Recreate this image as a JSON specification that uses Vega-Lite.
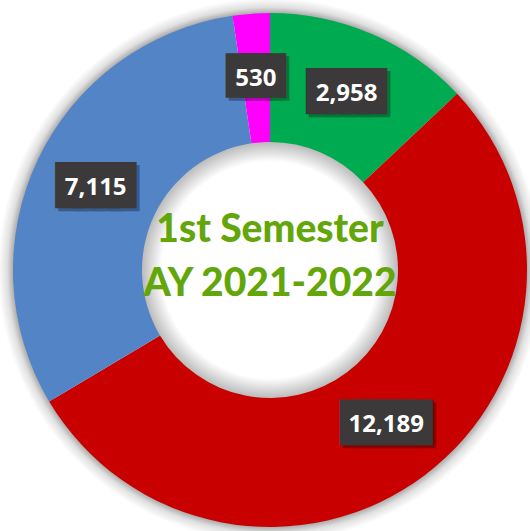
{
  "$schema": "https://vega.github.io/schema/vega-lite/v6.json",
  "width": 540,
  "height": 540,
  "autosize": "none",
  "padding": 0,
  "background": "white",
  "config": {"view": {"stroke": null}},
  "datasets": {
    "enrollment": [
      {"segment": "Segment 1", "order": 1, "value": 2958},
      {"segment": "Segment 2", "order": 2, "value": 12189},
      {"segment": "Segment 3", "order": 3, "value": 7115},
      {"segment": "Segment 4", "order": 4, "value": 530}
    ]
  },
  "layer": [
    {
      "data": {"values": [{"ring": "outer glow"}]},
      "mark": {
        "type": "arc", "theta": 0, "theta2": 6.2832, "outerRadius": 272, "innerRadius": 250,
        "fill": {"gradient": "radial", "x1": 0.5, "y1": 0.5, "r1": 0.4724, "x2": 0.5, "y2": 0.5, "r2": 0.5,
          "stops": [{"offset": 0, "color": "rgba(0,0,0,0.32)"}, {"offset": 0.4, "color": "rgba(0,0,0,0.12)"}, {"offset": 1, "color": "rgba(0,0,0,0)"}]}
      },
      "encoding": {}
    },
    {
      "data": {"values": [{"ring": "inner shade"}]},
      "mark": {
        "type": "arc", "theta": 0, "theta2": 6.2832, "outerRadius": 129, "innerRadius": 0,
        "fill": {"gradient": "radial", "x1": 0.5, "y1": 0.5, "r1": 0.42, "x2": 0.5, "y2": 0.5, "r2": 0.5,
          "stops": [{"offset": 0, "color": "rgba(0,0,0,0)"}, {"offset": 1, "color": "rgba(0,0,0,0.28)"}]}
      },
      "encoding": {}
    },
    {
      "data": {"name": "enrollment"},
      "mark": {"type": "arc", "outerRadius": 257, "innerRadius": 128},
      "encoding": {
        "theta": {"field": "value", "type": "quantitative", "stack": true},
        "order": {"field": "order", "type": "quantitative"},
        "color": {
          "field": "segment", "type": "nominal", "legend": null,
          "scale": {"domain": ["Segment 1", "Segment 2", "Segment 3", "Segment 4"],
                    "range": ["#00AA50", "#C80000", "#5284C6", "#FF00FF"]}
        }
      }
    },
    {
      "data": {"name": "enrollment"},
      "mark": {"type": "text", "radius": 193, "font": "DejaVu Sans Mono", "fill": "#000000", "stroke": "#000000", "strokeJoin": "miter", "opacity": 0.3, "align": "center", "baseline": "middle", "dx": 3, "dy": 2},
      "encoding": {
        "theta": {"field": "value", "type": "quantitative", "stack": true},
        "order": {"field": "order", "type": "quantitative"},
        "text": {"condition": [{"test": "datum.value < 1000", "value": "███"}, {"test": "datum.value < 10000", "value": "████"}], "value": "█████"},
        "size": {"condition": [{"test": "datum.value < 1000", "value": 24.8}, {"test": "datum.value < 10000", "value": 28.4}], "value": 25.9},
        "strokeWidth": {"condition": [{"test": "datum.value < 1000", "value": 15.2}, {"test": "datum.value < 10000", "value": 12.6}], "value": 15.1}
      }
    },
    {
      "data": {"name": "enrollment"},
      "mark": {"type": "text", "radius": 193, "font": "DejaVu Sans Mono", "fill": "#3B3939", "stroke": "#3B3939", "strokeJoin": "miter", "align": "center", "baseline": "middle", "dy": -1},
      "encoding": {
        "theta": {"field": "value", "type": "quantitative", "stack": true},
        "order": {"field": "order", "type": "quantitative"},
        "text": {"condition": [{"test": "datum.value < 1000", "value": "███"}, {"test": "datum.value < 10000", "value": "████"}], "value": "█████"},
        "size": {"condition": [{"test": "datum.value < 1000", "value": 24.8}, {"test": "datum.value < 10000", "value": 28.4}], "value": 25.9},
        "strokeWidth": {"condition": [{"test": "datum.value < 1000", "value": 15.2}, {"test": "datum.value < 10000", "value": 12.6}], "value": 15.1}
      }
    },
    {
      "data": {"name": "enrollment"},
      "mark": {"type": "text", "radius": 193, "font": "Open Sans", "fontWeight": "bold", "fontSize": 24, "fill": "white", "align": "center", "baseline": "middle", "dy": 1},
      "encoding": {
        "theta": {"field": "value", "type": "quantitative", "stack": true},
        "order": {"field": "order", "type": "quantitative"},
        "text": {"field": "value", "type": "quantitative", "format": ","}
      }
    },
    {
      "data": {"values": [{"title": "center"}]},
      "mark": {"type": "text", "text": ["1st Semester", "AY 2021-2022"], "font": "Lato", "fontWeight": 900, "fontSize": 39, "lineHeight": 54, "fill": "#62A60A", "align": "center", "baseline": "middle", "dy": -40},
      "encoding": {}
    }
  ]
}
